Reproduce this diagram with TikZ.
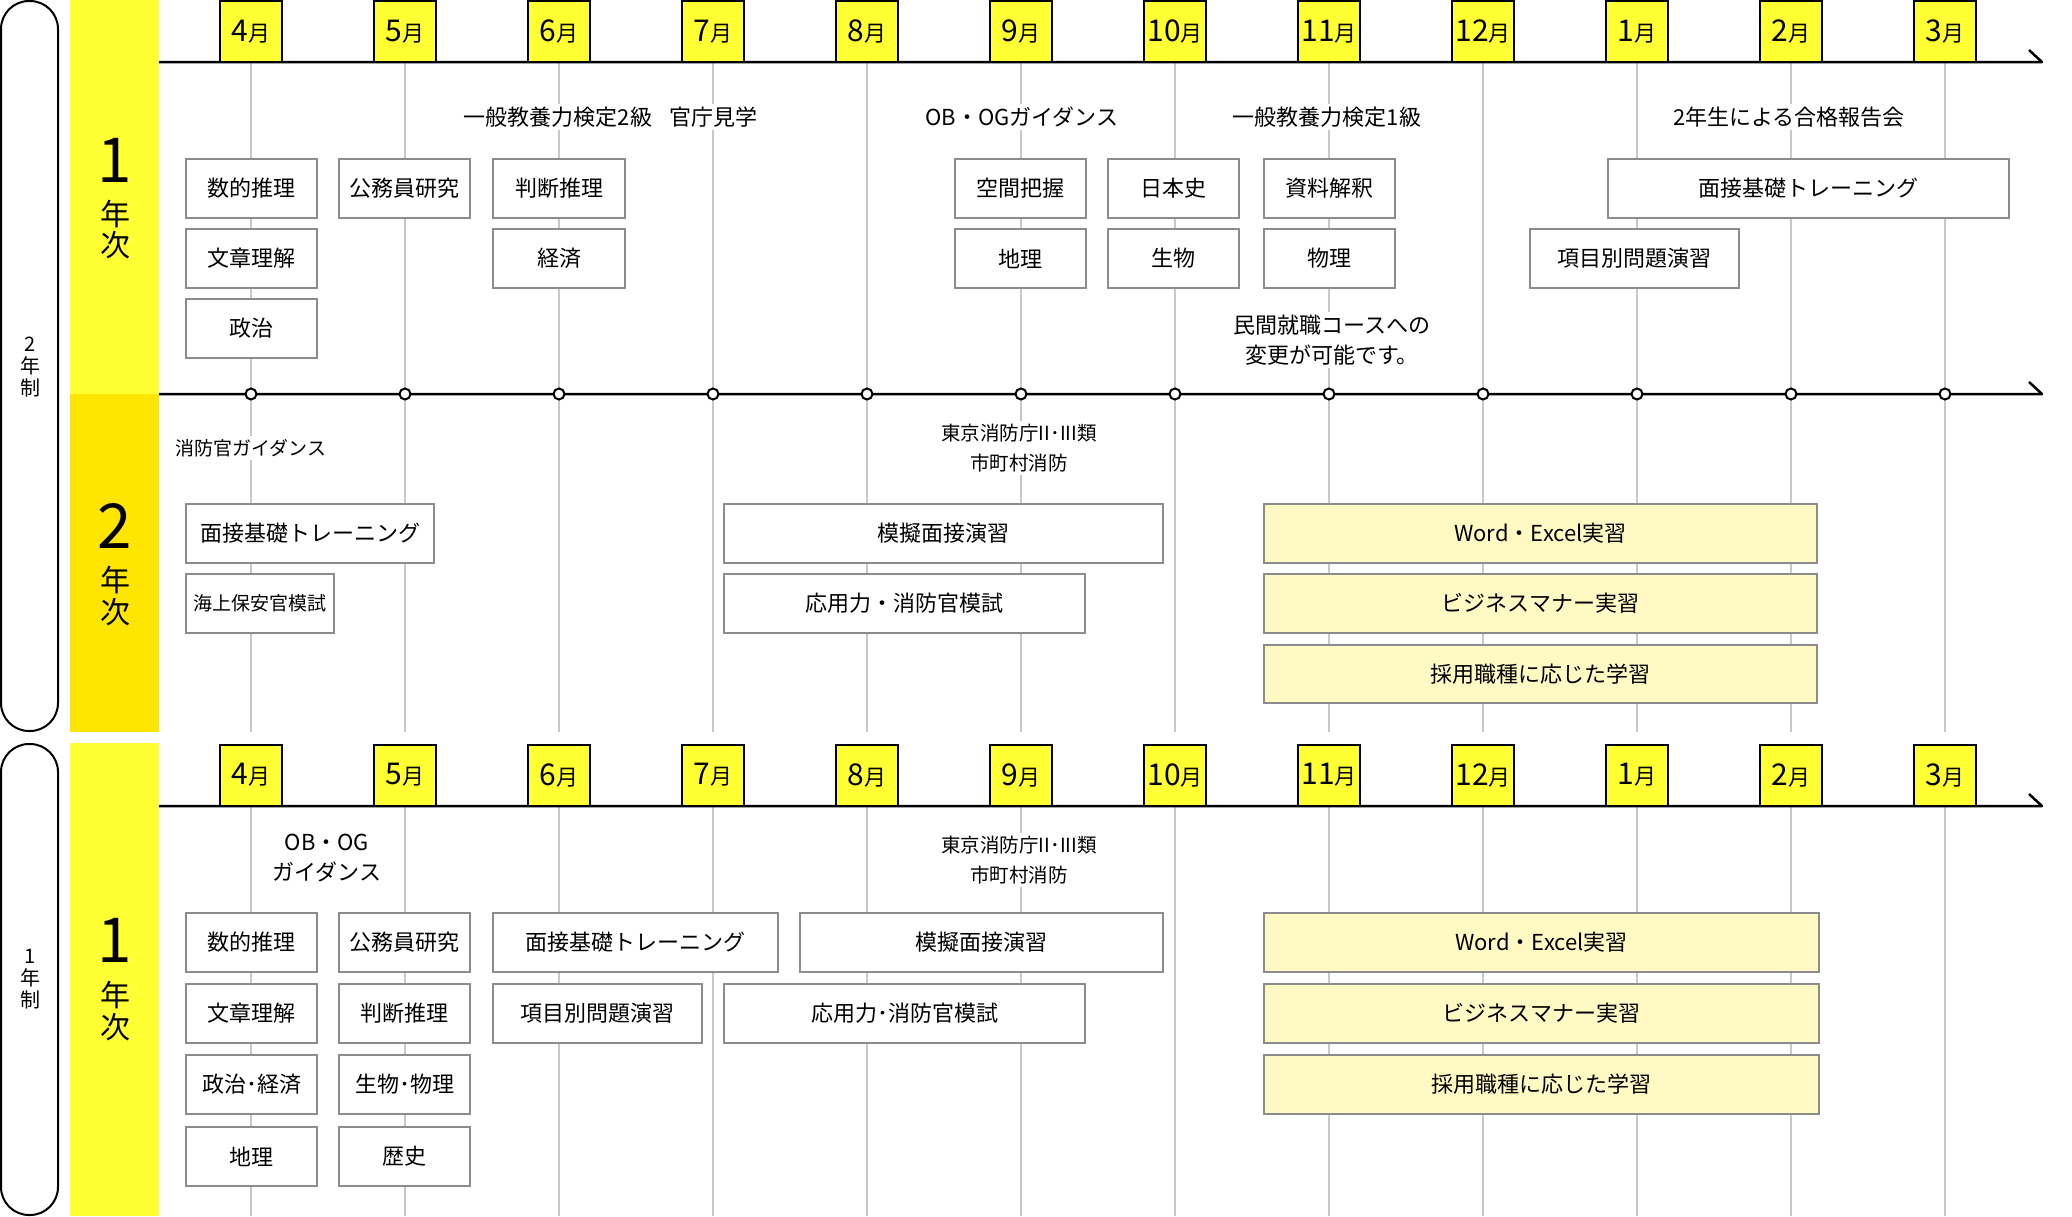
\documentclass[tikz,border=0pt]{standalone}
\usepackage{fontspec}
\setmainfont{Noto Sans CJK JP}
\definecolor{ylw}{RGB}{255,255,51}
\definecolor{gold}{RGB}{255,230,0}
\definecolor{pale}{RGB}{255,250,195}
\definecolor{bgray}{RGB}{140,140,140}
\definecolor{lgray}{RGB}{200,200,200}
% box from corners: name, x1, y1, x2, y2, text, style
\newcommand{\bx}[7]{\node[#7, minimum width={(#4-#2)*1pt}, minimum height={(#5-#3)*1pt}] (#1) at ({(#2+#4)/2},{(#3+#5)/2}) {#6};}
\begin{document}
\begin{tikzpicture}[x=1pt,y=-1pt,
  box/.style={draw=bgray, line width=2pt, fill=white, inner sep=0pt, font=\fontsize{22}{26}\selectfont},
  ybox/.style={box, fill=pale},
  mbox/.style={draw=black, line width=2pt, fill=ylw, minimum width=62pt, minimum height=61pt, inner sep=0pt},
  lbl/.style={fill=white, inner sep=3pt, align=center, font=\fontsize{22}{30}\selectfont},
  slbl/.style={lbl, font=\fontsize{19.5}{30}\selectfont},
  tline/.style={line width=2.5pt, line join=round},
  vline/.style={draw=lgray, line width=1.3pt},
  pill/.style={draw=black, line width=2pt, rounded corners=28pt},
  bignum/.style={inner sep=0pt, font=\fontsize{62}{62}\selectfont},
  bigchar/.style={inner sep=0pt, font=\fontsize{30}{30}\selectfont},
  plbl/.style={inner sep=0pt, align=center, font=\fontsize{20}{22}\selectfont},
  circ/.style={circle, draw=black, line width=2pt, fill=white, minimum size=11pt, inner sep=0pt}
]
\useasboundingbox (0,0) rectangle (2072,1216);
\fill[white] (0,0) rectangle (2072,1216);

% side pills
\draw[pill] (1,1) rectangle (58,731);
\draw[pill] (1,744) rectangle (58,1215);
\node[plbl] (p2) at (30,367) {2\\年\\制};
\node[plbl] (p1) at (30,979) {1\\年\\制};

% year strips
\fill[ylw] (70,0) rectangle (159,394);
\fill[gold] (70,394) rectangle (159,732);
\fill[ylw] (70,743) rectangle (159,1216);
\node[bignum] (y1a) at (115,160) {1};
\node[bigchar] (y1b) at (115,214) {年};
\node[bigchar] (y1c) at (115,245) {次};
\node[bignum] (y2a) at (115,526) {2};
\node[bigchar] (y2b) at (115,580) {年};
\node[bigchar] (y2c) at (115,612) {次};
\node[bignum] (y3a) at (115,940) {1};
\node[bigchar] (y3b) at (115,995) {年};
\node[bigchar] (y3c) at (115,1027) {次};

% month grid lines
\foreach \m [count=\i from 0] in {4,5,6,7,8,9,10,11,12,1,2,3} {
  \pgfmathsetmacro\xx{251+154*\i}
  \draw[vline] (\xx,62) -- (\xx,732);
  \draw[vline] (\xx,806) -- (\xx,1216);
}

% timelines
\coordinate (t1s) at (159,62);  \coordinate (t1e) at (2042,62);  \coordinate (t1k) at (2029,50);
\coordinate (t2s) at (159,394); \coordinate (t2e) at (2042,394); \coordinate (t2k) at (2029,382);
\coordinate (t3s) at (159,806); \coordinate (t3e) at (2042,806); \coordinate (t3k) at (2029,794);
\draw[tline] (t1s) -- (t1e) -- (t1k);
\draw[tline] (t2s) -- (t2e) -- (t2k);
\draw[tline] (t3s) -- (t3e) -- (t3k);

% month boxes and circles
\foreach \m [count=\i from 0] in {4,5,6,7,8,9,10,11,12,1,2,3} {
  \pgfmathsetmacro\xx{251+154*\i}
  \node[mbox] (mt\m) at (\xx,31.5) {\fontsize{30}{30}\selectfont\m\fontsize{22}{22}\selectfont 月};
  \node[mbox] (mb\m) at (\xx,775) {\fontsize{30}{30}\selectfont\m\fontsize{22}{22}\selectfont 月};
  \node[circ] (c\m) at (\xx,394) {};
}

% ---- 2-year course, 1st year ----
\node[lbl] (e1) at (558,117) {一般教養力検定2級};
\node[lbl] (e2) at (713,117) {官庁見学};
\node[lbl] (e3) at (1022,117) {OB・OGガイダンス};
\node[lbl] (e4) at (1327,117) {一般教養力検定1級};
\node[lbl] (e5) at (1789,117) {2年生による合格報告会};
\node[lbl] (e6) at (1332,340) {民間就職コースへの\\変更が可能です。};

\bx{a1}{186}{159}{317}{218}{数的推理}{box}
\bx{a2}{186}{229}{317}{288}{文章理解}{box}
\bx{a3}{186}{299}{317}{358}{政治}{box}
\bx{a4}{339}{159}{470}{218}{公務員研究}{box}
\bx{a5}{493}{159}{625}{218}{判断推理}{box}
\bx{a6}{493}{229}{625}{288}{経済}{box}
\bx{a7}{955}{159}{1086}{218}{空間把握}{box}
\bx{a8}{955}{229}{1086}{288}{地理}{box}
\bx{a9}{1108}{159}{1239}{218}{日本史}{box}
\bx{a10}{1108}{229}{1239}{288}{生物}{box}
\bx{a11}{1264}{159}{1395}{218}{資料解釈}{box}
\bx{a12}{1264}{229}{1395}{288}{物理}{box}
\bx{a13}{1608}{159}{2009}{218}{面接基礎トレーニング}{box}
\bx{a14}{1530}{229}{1739}{288}{項目別問題演習}{box}

% ---- 2-year course, 2nd year ----
\node[slbl, font=\fontsize{19}{30}\selectfont] (f1) at (251,448) {消防官ガイダンス};
\node[slbl] (f2) at (1019,448) {東京消防庁II･III類\\市町村消防};

\bx{b1}{186}{504}{434}{563}{面接基礎トレーニング}{box}
\bx{b2}{186}{574}{334}{633}{海上保安官模試}{box, font=\fontsize{19}{22}\selectfont}
\bx{b3}{724}{504}{1163}{563}{模擬面接演習}{box}
\bx{b4}{724}{574}{1085}{633}{応用力・消防官模試}{box}
\bx{b5}{1264}{504}{1817}{563}{Word・Excel実習}{ybox}
\bx{b6}{1264}{574}{1817}{633}{ビジネスマナー実習}{ybox}
\bx{b7}{1264}{645}{1817}{703}{採用職種に応じた学習}{ybox}

% ---- 1-year course ----
\node[lbl] (g1) at (327,858) {OB・OG\\ガイダンス};
\node[slbl] (g2) at (1019,860) {東京消防庁II･III類\\市町村消防};

\bx{c1}{186}{913}{317}{972}{数的推理}{box}
\bx{c2}{186}{984}{317}{1043}{文章理解}{box}
\bx{c3}{186}{1055}{317}{1114}{政治･経済}{box}
\bx{c4}{186}{1127}{317}{1186}{地理}{box}
\bx{c5}{339}{913}{470}{972}{公務員研究}{box}
\bx{c6}{339}{984}{470}{1043}{判断推理}{box}
\bx{c7}{339}{1055}{470}{1114}{生物･物理}{box}
\bx{c8}{339}{1127}{470}{1186}{歴史}{box}
\bx{c9}{493}{913}{778}{972}{面接基礎トレーニング}{box}
\bx{c10}{493}{984}{702}{1043}{項目別問題演習}{box}
\bx{c11}{800}{913}{1163}{972}{模擬面接演習}{box}
\bx{c12}{724}{984}{1085}{1043}{応用力･消防官模試}{box}
\bx{c13}{1264}{913}{1819}{972}{Word・Excel実習}{ybox}
\bx{c14}{1264}{984}{1819}{1043}{ビジネスマナー実習}{ybox}
\bx{c15}{1264}{1055}{1819}{1114}{採用職種に応じた学習}{ybox}
\end{tikzpicture}
\end{document}
